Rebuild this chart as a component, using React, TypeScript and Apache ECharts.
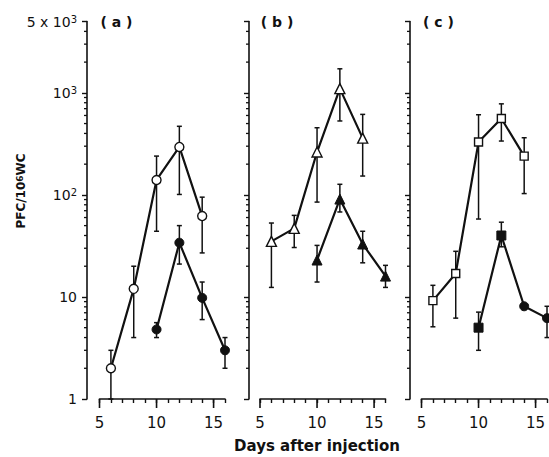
import React, { useEffect, useRef } from 'react';
import * as echarts from 'echarts';

// Panel (a): open circles and filled circles
const aOpenX = [6, 8, 10, 12, 14];
const aOpenY = [2.0, 12, 140, 295, 62];
const aOpenLo = [1, 4.0, 44, 101, 27];
const aOpenHi = [3.0, 20, 240, 470, 95];
const aFillX = [10, 12, 14, 16];
const aFillY = [4.8, 34, 9.8, 3.0];
const aFillLo = [4.0, 21, 6.0, 2.0];
const aFillHi = [5.6, 50, 14, 4.0];

// Panel (b): open triangles and filled triangles
const bOpenX = [6, 8, 10, 12, 14];
const bOpenY = [35, 47, 263, 1100, 360];
const bOpenLo = [12.4, 30.5, 85, 530, 153];
const bOpenHi = [53, 63, 455, 1720, 615];
const bFillX = [10, 12, 14, 16];
const bFillY = [23, 91, 33, 16];
const bFillLo = [14, 68, 21.6, 12.4];
const bFillHi = [32, 127, 44, 20.4];

// Panel (c): open squares and filled squares/circles
const cOpenX = [6, 8, 10, 12, 14];
const cOpenY = [9.2, 17, 330, 560, 240];
const cOpenLo = [5.1, 6.2, 58, 337, 103];
const cOpenHi = [13, 28, 610, 780, 363];
const cFillX = [10, 12, 14, 16];
const cFillY = [5.0, 40, 8.1, 6.2];
const cFillLo = [3.0, 31, 8.1, 4.0];
const cFillHi = [7.1, 54, 8.1, 8.1];
const cFillSymbols = ['rect', 'rect', 'circle', 'circle'];

const panelLabels = ['( a )', '( b )', '( c )'];
const xMin = 5;
const xMax = 16;
const xLabelValues = [5, 10, 15];
const yMin = 1;
const yMax = 5000;
const yMinorTicks = [
  2, 3, 4, 5, 6, 7, 8, 9,
  20, 30, 40, 50, 60, 70, 80, 90,
  200, 300, 400, 500, 600, 700, 800, 900,
  2000, 3000, 4000,
];
const xTitle = 'Days after injection';

const FONT = 'DejaVu Sans';
const INK = '#111';

const gridLefts = [99.5, 260, 421.5];
const yOffsets = [12.5, 11, 11.5];
const GRID_TOP = 21.5;
const GRID_H = 377.5;
const GRID_W = 125.5;

function yLabel(v: number): string {
  const r = Math.round(v);
  if (r === 1) return '1';
  if (r === 10) return '10';
  if (r === 100) return '10{sup|2}';
  if (r === 1000) return '10{sup|3}';
  if (r === 5000) return '5 x 10{sup|3}';
  return '';
}

export default function App() {
  const ref = useRef<HTMLDivElement>(null);
  useEffect(() => {
    if (!ref.current) return;
    const chart = echarts.init(ref.current, undefined, { renderer: 'svg' });

    const panels = [
      { ox: aOpenX, oy: aOpenY, olo: aOpenLo, ohi: aOpenHi, osym: 'circle', osize: 9,
        fx: aFillX, fy: aFillY, flo: aFillLo, fhi: aFillHi, fsym: ['circle', 'circle', 'circle', 'circle'], fsize: 9 },
      { ox: bOpenX, oy: bOpenY, olo: bOpenLo, ohi: bOpenHi, osym: 'triangle', osize: 10,
        fx: bFillX, fy: bFillY, flo: bFillLo, fhi: bFillHi, fsym: ['triangle', 'triangle', 'triangle', 'triangle'], fsize: 10 },
      { ox: cOpenX, oy: cOpenY, olo: cOpenLo, ohi: cOpenHi, osym: 'rect', osize: 8,
        fx: cFillX, fy: cFillY, flo: cFillLo, fhi: cFillHi, fsym: cFillSymbols, fsize: 9 },
    ];

    const grids: any[] = [];
    const xAxes: any[] = [];
    const yAxes: any[] = [];
    const series: any[] = [];

    panels.forEach((p, i) => {
      grids.push({ left: gridLefts[i], top: GRID_TOP, width: GRID_W, height: GRID_H, outerBoundsMode: 'none' });
      xAxes.push({
        type: 'value', gridIndex: i, min: xMin, max: xMax, interval: 1,
        axisLine: { show: true, lineStyle: { color: INK, width: 1.6 } },
        axisTick: { show: true, length: 4, lineStyle: { color: INK, width: 1.4 } },
        splitLine: { show: false },
        axisLabel: {
          show: true, margin: 16, color: INK, fontFamily: FONT, fontSize: 15,
          formatter: (v: number) => (xLabelValues.includes(Math.round(v)) ? String(Math.round(v)) : ''),
        },
      });
      yAxes.push({
        type: 'log', logBase: 10, gridIndex: i, min: yMin, max: yMax, offset: yOffsets[i],
        axisLine: { show: true, lineStyle: { color: INK, width: 1.6 } },
        axisTick: { show: true, length: 5, lineStyle: { color: INK, width: 1.4 } },
        splitLine: { show: false },
        minorTick: { show: false },
        axisLabel: {
          show: i === 0, margin: 10, color: INK, fontFamily: FONT, fontSize: 14,
          formatter: yLabel,
          rich: { sup: { fontSize: 10, fontFamily: FONT, color: INK, verticalAlign: 'top', lineHeight: 8 } },
        },
      });

      // minor log ticks on y-axis
      series.push({
        type: 'custom', xAxisIndex: i, yAxisIndex: i, silent: true,
        data: yMinorTicks.map((v) => [xMin, v]),
        renderItem: (params: any, api: any) => {
          const pt = api.coord([api.value(0), api.value(1)]);
          const x0 = pt[0] - yOffsets[i];
          return { type: 'line', shape: { x1: x0 - 3, y1: pt[1], x2: x0, y2: pt[1] }, style: { stroke: INK, lineWidth: 1.3 } };
        },
      });
      // major ticks on x-axis
      series.push({
        type: 'custom', xAxisIndex: i, yAxisIndex: i, silent: true,
        data: xLabelValues.map((v) => [v, yMin]),
        renderItem: (params: any, api: any) => {
          const pt = api.coord([api.value(0), api.value(1)]);
          return { type: 'line', shape: { x1: pt[0], y1: pt[1], x2: pt[0], y2: pt[1] + 9 }, style: { stroke: INK, lineWidth: 1.6 } };
        },
      });

      const errSeries = (xs: number[], lo: number[], hi: number[]) => ({
        type: 'custom', xAxisIndex: i, yAxisIndex: i, silent: true, z: 1,
        data: xs.map((x, j) => [x, lo[j], hi[j]]),
        encode: { x: 0, y: [1, 2] },
        renderItem: (params: any, api: any) => {
          const x = api.value(0);
          const top = api.coord([x, api.value(2)]);
          const bot = api.coord([x, api.value(1)]);
          const w = 2.5;
          const st = { stroke: INK, lineWidth: 1.5 };
          return {
            type: 'group',
            children: [
              { type: 'line', shape: { x1: top[0], y1: top[1], x2: bot[0], y2: bot[1] }, style: st },
              { type: 'line', shape: { x1: top[0] - w, y1: top[1], x2: top[0] + w, y2: top[1] }, style: st },
              { type: 'line', shape: { x1: bot[0] - w, y1: bot[1], x2: bot[0] + w, y2: bot[1] }, style: st },
            ],
          };
        },
      });
      series.push(errSeries(p.ox, p.olo, p.ohi));
      series.push(errSeries(p.fx, p.flo, p.fhi));

      series.push({
        type: 'line', xAxisIndex: i, yAxisIndex: i, z: 3,
        data: p.ox.map((x, j) => [x, p.oy[j]]),
        symbol: p.osym, symbolSize: p.osize, showAllSymbol: true,
        lineStyle: { color: INK, width: 2.2 },
        itemStyle: { color: '#fff', borderColor: INK, borderWidth: 1.4 },
      });
      series.push({
        type: 'line', xAxisIndex: i, yAxisIndex: i, z: 3,
        data: p.fx.map((x, j) => ({ value: [x, p.fy[j]], symbol: p.fsym[j] })),
        symbolSize: p.fsize, showAllSymbol: true,
        lineStyle: { color: INK, width: 2.2 },
        itemStyle: { color: INK, borderColor: INK, borderWidth: 1 },
      });
    });

    const graphics: any[] = panelLabels.map((t, i) => ({
      type: 'text', x: gridLefts[i] + 17, y: 22,
      style: { text: t, font: `bold 14px "${FONT}"`, fill: INK, align: 'center', verticalAlign: 'middle' },
    }));
    graphics.push({
      type: 'text', x: 317, y: 446,
      style: { text: xTitle, font: `bold 15px "${FONT}"`, fill: INK, align: 'center', verticalAlign: 'middle', letterSpacing: 0.3 },
    });
    graphics.push({
      type: 'text', x: 21, y: 191, rotation: Math.PI / 2,
      style: {
        text: 'PFC/10{s|6}WC', fontFamily: FONT, fontSize: 12, fontWeight: 'bold', fill: INK,
        align: 'center', verticalAlign: 'middle',
        rich: { s: { fontSize: 9, fontFamily: FONT, fontWeight: 'bold', fill: INK, verticalAlign: 'top', lineHeight: 8 } },
      },
    });

    chart.setOption({
      animation: false,
      backgroundColor: '#fff',
      grid: grids,
      xAxis: xAxes,
      yAxis: yAxes,
      series,
      graphic: graphics,
    });
    return () => chart.dispose();
  }, []);
  return <div ref={ref} style={{ position: 'absolute', left: 0, top: 0, width: 549, height: 457 }} />;
}
